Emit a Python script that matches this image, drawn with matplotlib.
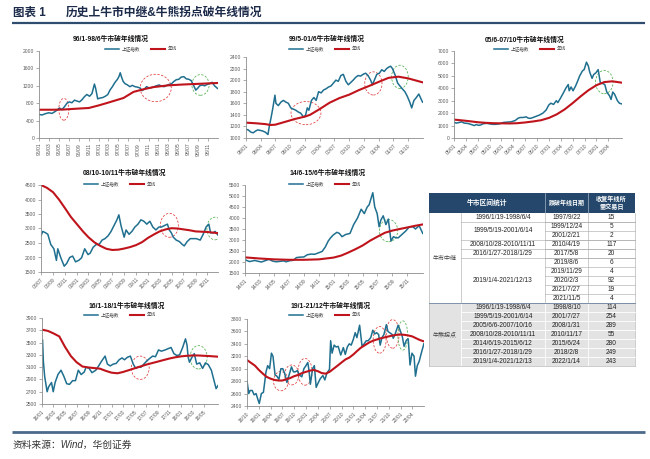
import matplotlib
matplotlib.use('Agg')
import matplotlib.pyplot as plt
import matplotlib.dates as mdates
from matplotlib.patches import Ellipse, Rectangle
from matplotlib.lines import Line2D
from datetime import datetime

plt.rcParams['font.family'] = ['Liberation Sans', 'Noto Sans CJK SC']

# ---------------- data ----------------
IDX_NAME = '上证指数'
MA_NAME = '年线'

# Chart 1: 96/1-98/6
c1_idx_d = ['96-01-01','96-01-20','96-02-10','96-03-01','96-03-20','96-04-05','96-04-20','96-05-05','96-05-20','96-06-05',
            '96-06-20','96-07-05','96-07-20','96-08-05','96-08-20','96-09-05','96-09-20','96-10-05','96-10-20','96-11-05',
            '96-11-20','96-12-05','96-12-12','96-12-25','97-01-10','97-01-25','97-02-10','97-02-25','97-03-10','97-03-25',
            '97-04-10','97-04-25','97-05-05','97-05-12','97-05-20','97-05-30','97-06-10','97-06-25','97-07-10','97-07-25',
            '97-08-10','97-08-25','97-09-10','97-09-22','97-10-05','97-10-20','97-11-05','97-11-20','97-12-05','97-12-20',
            '98-01-05','98-01-20','98-02-05','98-02-20','98-03-05','98-03-20','98-04-05','98-04-20','98-05-05','98-05-20',
            '98-06-05','98-06-20','98-07-05','98-07-20','98-08-05','98-08-17','98-08-30','98-09-10','98-09-25','98-10-10',
            '98-10-25','98-11-10','98-11-25','98-12-10','98-12-28']
c1_idx_v = [540,530,560,580,565,600,640,690,650,720,
            800,830,810,870,850,830,880,950,1000,960,
            1020,1240,1150,900,920,930,960,1000,1100,1180,
            1280,1350,1420,1500,1400,1300,1250,1220,1180,1210,
            1180,1170,1150,1090,1120,1180,1150,1160,1180,1200,
            1220,1190,1180,1210,1230,1240,1300,1340,1350,1400,
            1410,1360,1350,1320,1200,1100,1150,1200,1220,1200,
            1230,1250,1280,1200,1140]
c1_ma_d = ['96-01-01','96-04-01','96-06-01','96-09-01','96-11-01','97-01-01','97-03-01','97-06-01','97-08-01','97-10-01',
           '97-12-01','98-03-01','98-06-01','98-09-01','98-12-31']
c1_ma_v = [650,650,655,677,690,750,815,920,1060,1120,1170,1210,1230,1245,1265]

# Chart 2: 99/5-01/6
c2_idx_d = ['99-01-01','99-01-15','99-02-01','99-02-15','99-03-01','99-03-15','99-04-01','99-04-15','99-05-01','99-05-17',
            '99-05-25','99-06-05','99-06-15','99-06-29','99-07-05','99-07-20','99-08-05','99-08-20','99-09-05','99-09-20',
            '99-10-05','99-10-20','99-11-05','99-11-20','99-12-05','99-12-24','00-01-05','00-01-15','00-01-25','00-02-10',
            '00-02-25','00-03-10','00-03-25','00-04-10','00-04-25','00-05-10','00-05-25','00-06-10','00-06-25','00-07-10',
            '00-07-25','00-08-10','00-08-25','00-09-10','00-09-25','00-10-10','00-10-25','00-11-10','00-11-25','00-12-10',
            '00-12-25','01-01-10','01-01-25','01-02-10','01-02-21','01-03-05','01-03-20','01-04-05','01-04-20','01-05-05',
            '01-05-20','01-06-05','01-06-14','01-06-25','01-07-10','01-07-27','01-08-10','01-08-25','01-09-10','01-09-25',
            '01-10-10','01-10-22','01-11-05','01-11-20','01-12-05','01-12-28']
c2_idx_v = [1150,1140,1100,1090,1120,1140,1130,1120,1100,1060,
            1200,1350,1500,1740,1600,1560,1620,1650,1620,1600,
            1520,1500,1480,1450,1430,1360,1400,1520,1480,1650,
            1700,1650,1800,1780,1830,1850,1880,1900,1950,2000,
            1980,2080,2100,1980,1920,1960,2000,2050,2080,2070,
            2100,2120,2080,2000,1920,2000,2100,2120,2180,2150,
            2200,2230,2240,2200,2100,1950,1900,1850,1800,1720,
            1620,1520,1650,1700,1760,1620]
c2_ma_d = ['99-01-01','99-03-01','99-05-01','99-06-01','99-07-01','99-09-01','99-11-01','00-01-01','00-02-01','00-04-01',
           '00-06-01','00-08-01','00-10-01','00-12-01','01-02-01','01-04-01','01-06-01','01-08-01','01-10-01','01-12-31']
c2_ma_v = [1265,1255,1240,1225,1230,1280,1330,1370,1400,1500,1610,1690,1750,1830,1900,1970,2040,2060,2030,1960]

# Chart 3: 05/6-07/10
c3_idx_d = ['05-01-01','05-01-20','05-02-10','05-03-01','05-03-20','05-04-10','05-04-25','05-05-15','05-06-06','05-06-20',
            '05-07-10','05-07-25','05-08-15','05-09-10','05-10-10','05-10-28','05-11-20','05-12-20','06-01-15','06-02-15',
            '06-03-15','06-04-15','06-05-10','06-05-25','06-06-15','06-07-10','06-07-25','06-08-10','06-09-01','06-09-25',
            '06-10-20','06-11-15','06-12-10','06-12-30','07-01-15','07-02-05','07-02-26','07-03-10','07-03-30','07-04-20',
            '07-05-10','07-05-29','07-06-05','07-06-20','07-07-05','07-07-25','07-08-10','07-08-25','07-09-15','07-09-28',
            '07-10-16','07-10-30','07-11-10','07-11-28','07-12-10','07-12-28','08-01-14','08-01-31','08-02-15','08-03-05',
            '08-03-20','08-04-10','08-04-22','08-05-05','08-05-20','08-06-10','08-06-25','08-07-10']
c3_idx_v = [1260,1200,1250,1300,1200,1180,1150,1080,1000,1080,
            1020,1050,1150,1180,1120,1100,1100,1150,1250,1280,
            1300,1400,1600,1650,1650,1700,1600,1580,1650,1750,
            1850,2000,2250,2650,2800,2700,3000,2850,3200,3600,
            4000,4300,3800,4100,3800,4200,4600,5000,5400,5500,
            6100,5800,5300,4800,5100,5250,5500,4400,4400,4300,
            3700,3400,3100,3700,3500,3000,2800,2750]
c3_ma_d = ['05-01-01','05-03-01','05-05-01','05-07-01','05-09-01','05-11-01','06-01-01','06-03-01','06-05-01','06-07-01',
           '06-09-01','06-11-01','07-01-01','07-03-01','07-05-01','07-07-01','07-09-01','07-11-01','08-01-01','08-03-01',
           '08-05-01','08-07-15']
c3_ma_v = [1480,1420,1350,1270,1220,1190,1180,1170,1190,1250,1330,1430,1620,1900,2300,2800,3350,3850,4250,4500,4560,4450]

# Chart 4: 08/10-10/11
c4_idx_d = ['08-07-01','08-07-10','08-07-25','08-08-05','08-08-20','08-09-05','08-09-18','08-09-25','08-10-10','08-10-28',
            '08-11-10','08-11-25','08-12-10','08-12-25','09-01-10','09-01-25','09-02-10','09-02-27','09-03-10','09-03-25',
            '09-04-10','09-04-25','09-05-10','09-05-25','09-06-10','09-06-25','09-07-10','09-07-25','09-08-04','09-08-15',
            '09-08-31','09-09-10','09-09-25','09-10-10','09-10-25','09-11-10','09-11-25','09-12-10','09-12-25','10-01-10',
            '10-01-25','10-02-10','10-02-25','10-03-10','10-03-25','10-04-10','10-04-19','10-04-30','10-05-10','10-05-25',
            '10-06-10','10-06-25','10-07-05','10-07-20','10-08-05','10-08-20','10-09-05','10-09-25','10-10-10','10-10-25',
            '10-11-08','10-11-17','10-11-30','10-12-10','10-12-24']
c4_idx_v = [2750,2900,2850,2800,2450,2300,1900,2300,2000,1700,
            1800,2000,2050,1850,1900,1990,2300,2100,2150,2350,
            2450,2450,2600,2650,2750,2900,3100,3300,3470,3100,
            2700,2950,2800,2900,3050,3150,3300,3250,3150,3250,
            3050,2950,3050,3050,3100,3150,2950,2850,2700,2600,
            2550,2450,2400,2550,2650,2650,2650,2600,2800,3050,
            3150,2850,2850,2900,2780]
c4_ma_d = ['08-07-01','08-08-01','08-09-01','08-10-01','08-11-01','08-12-01','09-01-01','09-02-01','09-03-01','09-04-01',
           '09-05-01','09-06-01','09-07-01','09-08-01','09-09-01','09-10-01','09-11-01','09-12-01','10-01-01','10-02-01',
           '10-03-01','10-04-01','10-05-01','10-06-01','10-07-01','10-08-01','10-09-01','10-10-01','10-11-01','10-12-24']
c4_ma_v = [4500,4400,4250,4000,3700,3400,3150,2900,2700,2520,2400,2300,2260,2270,2310,2360,2430,2530,2680,2800,
           2900,2970,3010,3000,2970,2940,2900,2890,2880,2840]

# Chart 5: 14/6-15/6
c5_idx_d = ['14-01-01','14-01-20','14-02-10','14-02-25','14-03-10','14-03-25','14-04-10','14-04-25','14-05-10','14-05-25',
            '14-06-10','14-06-19','14-07-05','14-07-20','14-08-01','14-08-15','14-09-01','14-09-15','14-10-01','14-10-15',
            '14-11-01','14-11-15','14-11-28','14-12-10','14-12-20','14-12-31','15-01-15','15-01-25','15-02-05','15-02-20',
            '15-03-10','15-03-25','15-04-10','15-04-25','15-05-08','15-05-20','15-05-28','15-06-05','15-06-12','15-06-20',
            '15-06-30','15-07-08','15-07-15','15-07-25','15-08-05','15-08-15','15-08-26','15-09-05','15-09-15','15-09-25',
            '15-10-10','15-10-25','15-11-10','15-11-25','15-12-05','15-12-20','16-01-04']
c5_idx_v = [2100,2020,2070,2030,2000,2060,2120,2040,2010,2030,
            2050,2010,2060,2080,2200,2220,2230,2330,2360,2350,
            2420,2480,2680,2950,3100,3230,3350,3300,3150,3250,
            3300,3700,4000,4400,4200,4500,4600,4900,5150,4500,
            4200,3600,3900,4100,3700,3950,2950,3150,3100,3100,
            3250,3400,3600,3600,3500,3650,3300]
c5_ma_d = ['14-01-01','14-03-01','14-05-01','14-07-01','14-09-01','14-11-01','15-01-01','15-02-01','15-03-01','15-04-01',
           '15-05-01','15-06-01','15-07-01','15-08-01','15-09-01','15-10-01','15-11-01','15-12-01','16-01-05']
c5_ma_v = [2210,2160,2120,2100,2100,2120,2200,2290,2420,2580,2750,2970,3150,3330,3430,3500,3570,3640,3710]

# Chart 6: 16/1-18/1
c6_idx_d = ['16-01-04','16-01-08','16-01-15','16-01-28','16-02-05','16-02-20','16-02-29','16-03-10','16-03-25','16-04-10',
            '16-04-25','16-05-10','16-05-25','16-06-10','16-06-25','16-07-10','16-07-25','16-08-10','16-08-20','16-09-05',
            '16-09-20','16-10-10','16-10-25','16-11-10','16-11-28','16-12-10','16-12-25','17-01-10','17-01-25','17-02-10',
            '17-02-25','17-03-10','17-03-25','17-04-10','17-04-25','17-05-08','17-05-20','17-06-05','17-06-20','17-07-05',
            '17-07-20','17-08-05','17-08-20','17-09-05','17-09-20','17-10-10','17-10-25','17-11-10','17-11-25','17-12-10',
            '17-12-25','18-01-10','18-01-25','18-02-02','18-02-08','18-02-15','18-02-28','18-03-12','18-03-25','18-04-10',
            '18-04-25','18-05-10','18-05-25','18-06-10','18-06-25','18-07-05','18-07-15']
c6_idx_v = [3540,3200,2950,2700,2780,2850,2700,2850,2980,3050,
            2950,2830,2820,2880,2880,3050,2980,3020,3100,3080,
            3010,3050,3120,3200,3280,3150,3120,3150,3160,3220,
            3250,3220,3260,3280,3150,3080,3100,3100,3150,3200,
            3240,3280,3270,3380,3360,3380,3400,3420,3320,3290,
            3300,3420,3560,3460,3260,3180,3260,3320,3150,3170,
            3080,3170,3140,3050,2870,2750,2800]
c6_ma_d = ['16-01-01','16-02-01','16-03-01','16-04-01','16-05-01','16-06-01','16-07-01','16-08-01','16-09-01','16-10-01',
           '16-11-01','16-12-01','17-01-01','17-02-01','17-03-01','17-04-01','17-05-01','17-06-01','17-07-01','17-08-01',
           '17-09-01','17-10-01','17-11-01','17-12-01','18-01-01','18-02-01','18-03-01','18-04-01','18-05-01','18-06-01',
           '18-07-15']
c6_ma_v = [3710,3690,3650,3600,3430,3280,3180,3110,3095,3085,3075,3040,3010,3000,3020,3050,3080,3110,3140,3165,
           3190,3215,3240,3260,3275,3285,3290,3290,3285,3280,3270]

# Chart 7: 19/1-21/12
c7_idx_d = ['18-10-01','18-10-15','18-10-25','18-11-10','18-11-25','18-12-10','18-12-25','19-01-04','19-01-20','19-02-05',
            '19-02-25','19-03-10','19-03-25','19-04-08','19-04-20','19-05-06','19-05-20','19-06-05','19-06-20','19-07-05',
            '19-07-20','19-08-06','19-08-20','19-09-10','19-09-25','19-10-10','19-10-25','19-11-10','19-11-29','19-12-15',
            '19-12-31','20-01-14','20-01-23','20-02-03','20-02-20','20-03-05','20-03-19','20-04-05','20-04-20','20-05-10',
            '20-05-25','20-06-10','20-06-30','20-07-09','20-07-20','20-08-05','20-08-20','20-09-05','20-09-25','20-10-15',
            '20-10-30','20-11-15','20-11-30','20-12-15','20-12-31','21-01-15','21-01-28','21-02-18','21-03-09','21-03-25',
            '21-04-10','21-04-25','21-05-15','21-05-31','21-06-15','21-06-30','21-07-15','21-07-27','21-08-10','21-08-25',
            '21-09-13','21-09-25','21-10-15','21-10-28','21-11-05','21-11-20','21-12-13','21-12-28','22-01-14','22-01-28',
            '22-02-15','22-03-01','22-03-15','22-03-30','22-04-15','22-04-26','22-05-10','22-05-25','22-06-10','22-06-30']
c7_idx_v = [2800,2600,2650,2650,2580,2600,2500,2440,2600,2620,
            2950,3050,3000,3250,3200,2900,2880,2830,3000,3000,
            2920,2780,2880,3030,2950,2950,2970,2900,2870,3000,
            3050,3100,2980,2750,3000,3050,2700,2780,2840,2890,
            2820,2930,2990,3450,3250,3380,3350,3360,3220,3340,
            3230,3350,3400,3380,3470,3580,3500,3700,3360,3400,
            3450,3450,3500,3620,3560,3580,3550,3380,3500,3550,
            3710,3600,3570,3550,3490,3560,3700,3620,3520,3360,
            3460,3480,3060,3250,3200,2880,3050,3120,3250,3400]
c7_ma_d = ['18-10-01','18-12-01','19-01-01','19-02-01','19-03-01','19-04-01','19-05-01','19-06-01','19-07-01','19-08-01',
           '19-09-01','19-10-01','19-11-01','19-12-01','20-01-01','20-02-01','20-03-01','20-04-01','20-05-01','20-06-01',
           '20-07-01','20-08-01','20-09-01','20-10-01','20-11-01','20-12-01','21-01-01','21-02-01','21-03-01','21-04-01',
           '21-05-01','21-06-01','21-07-01','21-08-01','21-09-01','21-10-01','21-11-01','21-12-01','22-01-01','22-02-01',
           '22-03-01','22-04-01','22-05-01','22-06-01','22-07-01']
c7_ma_v = [3140,3050,2980,2920,2870,2840,2820,2810,2810,2830,2850,2880,2900,2930,2950,2970,2980,2960,2930,2920,
           2950,3000,3050,3100,3150,3180,3230,3290,3340,3380,3420,3450,3470,3490,3505,3520,3535,3545,3550,3545,
           3535,3520,3490,3460,3440]

# x tick labels
c1_xt = ['96/01','96/03','96/05','96/07','96/09','96/11','97/01','97/03','97/05','97/07','97/09','97/11',
         '98/01','98/03','98/05','98/07','98/09','98/11']
c2_xt = ['99/01','99/04','99/07','99/10','00/01','00/04','00/07','00/10','01/01','01/04','01/07','01/10']
c3_xt = ['05/01','05/04','05/07','05/10','06/01','06/04','06/07','06/10','07/01','07/04','07/07','07/10','08/01','08/04']
c4_xt = ['08/07','08/09','08/11','09/01','09/03','09/05','09/07','09/09','09/11','10/01','10/03','10/05','10/07','10/09','10/11']
c5_xt = ['14/01','14/03','14/05','14/07','14/09','14/11','15/01','15/03','15/05','15/07','15/09','15/11']
c6_xt = ['16/01','16/03','16/05','16/07','16/09','16/11','17/01','17/03','17/05','17/07','17/09','17/11','18/01','18/03','18/05']
c7_xt = ['18/10','19/01','19/04','19/07','19/10','20/01','20/04','20/07','20/10','21/01','21/04','21/07','21/10','22/01','22/04']

# circled break points: (centre date, centre value, width in days, height, colour)
RED = '#e03c3c'
GRN = '#4fb04f'
c1_circ = [('96-06-01', 660, 62, 500, RED), ('97-12-15', 1150, 190, 630, RED), ('98-09-15', 1220, 105, 475, GRN)]
c2_circ = [('00-01-07', 1430, 185, 400, RED), ('01-02-27', 1943, 107, 400, RED), ('01-08-10', 2057, 103, 400, GRN)]
c3_circ = [('08-03-01', 4500, 134, 1870, GRN)]
c4_circ = [('10-04-20', 3110, 92, 825, RED), ('10-12-10', 3000, 84, 780, GRN)]
c5_circ = [('15-08-16', 3425, 76, 1010, GRN)]
c6_circ = [('17-06-01', 3090, 94, 380, RED), ('18-04-04', 3260, 90, 380, GRN)]
c7_circ = [('19-06-20', 2800, 114, 310, RED), ('19-09-12', 2900, 110, 320, RED), ('19-12-24', 2950, 110, 430, RED),
           ('21-07-23', 3465, 100, 430, RED), ('21-11-01', 3560, 100, 460, RED), ('22-01-18', 3535, 76, 470, GRN)]

# table
sec1_ranges = ['1996/1/19-1998/6/4', '1999/5/19-2001/6/14', '2008/10/28-2010/11/11', '2016/1/27-2018/1/29', '2019/1/4-2021/12/13']
sec1_spans = [1, 2, 1, 1, 5]
sec1_dates = ['1997/9/22', '1999/12/24', '2001/2/21', '2010/4/19', '2017/5/8', '2019/8/6', '2019/11/29', '2020/2/3', '2021/7/27', '2021/11/5']
sec1_days = [15, 5, 2, 117, 20, 6, 4, 92, 19, 4]
sec2_ranges = ['1996/1/19-1998/6/4', '1999/5/19-2001/6/14', '2005/6/6-2007/10/16', '2008/10/28-2010/11/11',
               '2014/6/19-2015/6/12', '2016/1/27-2018/1/29', '2019/1/4-2021/12/13']
sec2_dates = ['1998/8/10', '2001/7/27', '2008/1/31', '2010/11/17', '2015/6/24', '2018/2/8', '2022/1/14']
sec2_days = [114, 254, 289, 55, 280, 249, 243]

# ---------------- drawing ----------------
W, H = 650, 459
fig = plt.figure(figsize=(W / 100, H / 100), dpi=100)
fig.patch.set_facecolor('white')

IDX_C = '#1f6f8f'
MA_C = '#c0141c'
TICK_C = '#595959'


def d(s):
    return datetime.strptime(s, '%y-%m-%d')


def add_ax(l, t, r, b):
    return fig.add_axes([l / W, 1 - b / H, (r - l) / W, (b - t) / H])


def chart(box, title, tpos, lpos, idx_d, idx_v, ma_d, ma_v, ylim, ystep, xt, xlim, rot, circs):
    ax = add_ax(*box)
    ax.plot([d(s) for s in idx_d], idx_v, color=IDX_C, lw=1.1, solid_joinstyle='round')
    ax.plot([d(s) for s in ma_d], ma_v, color=MA_C, lw=1.5)
    for (cd, cv, wd, hv, col) in circs:
        ax.add_patch(Ellipse((mdates.date2num(d(cd)), cv), wd, hv, fill=False, ec=col, lw=0.55, ls=(0, (3, 2))))
    ax.set_xlim(d(xlim[0]), d(xlim[1]))
    ax.set_ylim(*ylim)
    ax.set_yticks(range(ylim[0], ylim[1] + 1, ystep))
    ax.set_xticks([datetime.strptime(s, '%y/%m') for s in xt])
    if rot == 90:
        ax.set_xticklabels(xt, rotation=90, ha='center', va='top')
    else:
        ax.set_xticklabels(xt, rotation=45, ha='right', va='top', rotation_mode='anchor')
    for sp in ['top', 'right']:
        ax.spines[sp].set_visible(False)
    for sp in ['left', 'bottom']:
        ax.spines[sp].set_color('#8c8c8c')
        ax.spines[sp].set_linewidth(0.6)
    ax.tick_params(axis='both', labelsize=3.6, labelcolor=TICK_C, color='#8c8c8c', length=2, width=0.5, pad=1.5)
    ax.set_facecolor('none')
    fig.text(tpos[0] / W, 1 - tpos[1] / H, title, ha='center', va='center', fontsize=4.9, fontweight='bold', color='#111111')
    handles = [Line2D([], [], color=IDX_C, lw=1.1), Line2D([], [], color=MA_C, lw=1.5)]
    fig.legend(handles, [IDX_NAME, MA_NAME], loc='center', bbox_to_anchor=(lpos[0] / W, 1 - lpos[1] / H),
               ncol=2, frameon=False, fontsize=3.3, handlelength=3.2, handletextpad=0.6, columnspacing=2.2,
               labelcolor='#444444', borderpad=0)
    return ax


chart((39, 51, 218, 138), '96/1-98/6牛市破年线情况', (111, 39), (141, 49), c1_idx_d, c1_idx_v, c1_ma_d, c1_ma_v,
      (0, 2000), 400, c1_xt, ('96-01-01', '98-12-31'), 90, c1_circ)
chart((246, 57, 423, 138), '99/5-01/6牛市破年线情况', (327, 39), (325, 49), c2_idx_d, c2_idx_v, c2_ma_d, c2_ma_v,
      (1000, 2400), 200, c2_xt, ('99-01-01', '01-12-31'), 45, c2_circ)
chart((454, 51, 622, 138), '05/6-07/10牛市破年线情况', (525, 40), (530, 49), c3_idx_d, c3_idx_v, c3_ma_d, c3_ma_v,
      (0, 7000), 1000, c3_xt, ('05-01-01', '08-07-15'), 45, c3_circ)
chart((41, 185, 218, 272), '08/10-10/11牛市破年线情况', (124, 173), (120, 184), c4_idx_d, c4_idx_v, c4_ma_d, c4_ma_v,
      (1500, 4500), 500, c4_xt, ('08-07-01', '10-12-25'), 45, c4_circ)
chart((245, 185, 423, 273), '14/6-15/6牛市破年线情况', (328, 173), (325, 184), c5_idx_d, c5_idx_v, c5_ma_d, c5_ma_v,
      (1500, 5500), 500, c5_xt, ('14-01-01', '16-01-05'), 45, c5_circ)
chart((42, 318, 218, 404), '16/1-18/1牛市破年线情况', (127, 306), (120, 315), c6_idx_d, c6_idx_v, c6_ma_d, c6_ma_v,
      (2500, 3900), 200, c6_xt, ('16-01-01', '18-07-15'), 45, c6_circ)
chart((247, 319, 424, 406), '19/1-21/12牛市破年线情况', (331, 306), (325, 315), c7_idx_d, c7_idx_v, c7_ma_d, c7_ma_v,
      (2400, 3800), 200, c7_xt, ('18-10-01', '22-07-01'), 45, c7_circ)

# overlay in pixel coordinates for header, table and footer
ov = fig.add_axes([0, 0, 1, 1])
ov.set_xlim(0, W)
ov.set_ylim(H, 0)
ov.axis('off')
ov.set_facecolor('none')

ov.text(13, 13, '图表 1', fontsize=8.3, fontweight='bold', color='#1c2b4a', va='center', ha='left')
ov.text(66, 13, '历史上牛市中继&牛熊拐点破年线情况', fontsize=8.5, fontweight='bold', color='#1c2b4a', va='center', ha='left')
ov.plot([12, 645], [23, 23], color='#2e4d6e', lw=1.6, solid_capstyle='butt')
ov.plot([12, 645], [432, 432], color='#4c6a8a', lw=2.0, solid_capstyle='butt')
ov.text(13, 445, '资料来源：Wind，华创证券', fontsize=7, style='italic', color='#333333', va='center', ha='left')

# table
cols = [429, 461, 545, 588, 635]
top, hb, rh = 193, 213, 9.0
HDR = '#24476b'
GRAY = '#e3e3e3'
LINE = '#a6a6a6'
TFS = 4.7
ov.add_patch(Rectangle((cols[0], top), cols[-1] - cols[0], hb - top, fc=HDR, ec='none'))
for x in (cols[2], cols[3]):
    ov.plot([x, x], [top, hb], color='#c8d2dd', lw=0.4)
ov.text((cols[0] + cols[2]) / 2, (top + hb) / 2, '牛市区间统计', color='white', fontsize=4.9, fontweight='bold', ha='center', va='center')
ov.text((cols[2] + cols[3]) / 2, (top + hb) / 2, '跌破年线日期', color='white', fontsize=4.3, fontweight='bold', ha='center', va='center')
ov.text((cols[3] + cols[4]) / 2, (top + hb) / 2, '收复年线所\n需交易日', color='white', fontsize=4.4, fontweight='bold',
        ha='center', va='center', linespacing=1.25)

n1 = len(sec1_dates)
n2 = len(sec2_dates)
s2top = hb + n1 * rh
bot = s2top + n2 * rh
# section 2 grey background
ov.add_patch(Rectangle((cols[0], s2top), cols[-1] - cols[0], n2 * rh, fc=GRAY, ec='none'))

# section 1 lines
r = 0
for rng, sp in zip(sec1_ranges, sec1_spans):
    y0 = hb + r * rh
    ov.text((cols[1] + cols[2]) / 2, y0 + sp * rh / 2, rng, fontsize=TFS, ha='center', va='center', color='#222222')
    ov.plot([cols[1], cols[4]], [y0 + sp * rh, y0 + sp * rh], color=LINE, lw=0.4)
    r += sp
for i in range(n1):
    yc = hb + (i + 0.5) * rh
    ov.text((cols[2] + cols[3]) / 2, yc, sec1_dates[i], fontsize=TFS, ha='center', va='center', color='#222222')
    ov.text((cols[3] + cols[4]) / 2, yc, str(sec1_days[i]), fontsize=TFS, ha='center', va='center', color='#222222')
    if i > 0:
        ov.plot([cols[2], cols[4]], [hb + i * rh, hb + i * rh], color=LINE, lw=0.4)
for x in cols[1:4]:
    ov.plot([x, x], [hb, s2top], color=LINE, lw=0.4)
ov.plot([cols[0], cols[0]], [hb, bot], color=LINE, lw=0.4)
ov.plot([cols[4], cols[4]], [hb, bot], color=LINE, lw=0.4)
ov.text((cols[0] + cols[1]) / 2, (hb + s2top) / 2, '牛市中继', fontsize=4.3, ha='center', va='center', color='#444444')

# section 2
for i in range(n2):
    yc = s2top + (i + 0.5) * rh
    ov.text((cols[1] + cols[2]) / 2, yc, sec2_ranges[i], fontsize=TFS, ha='center', va='center', color='#222222')
    ov.text((cols[2] + cols[3]) / 2, yc, sec2_dates[i], fontsize=TFS, ha='center', va='center', color='#222222')
    ov.text((cols[3] + cols[4]) / 2, yc, str(sec2_days[i]), fontsize=TFS, ha='center', va='center', color='#222222')
    if i > 0:
        ov.plot([cols[1], cols[4]], [s2top + i * rh, s2top + i * rh], color='white', lw=0.6)
for x in cols[1:4]:
    ov.plot([x, x], [s2top, bot], color='white', lw=0.6)
ov.plot([cols[0], cols[4]], [s2top, s2top], color='#6f86a0', lw=0.6)
ov.plot([cols[0], cols[4]], [bot, bot], color=LINE, lw=0.4)
ov.text((cols[0] + cols[1]) / 2, (s2top + bot) / 2, '牛熊拐点', fontsize=4.3, ha='center', va='center', color='#444444')

fig.savefig('out.png', dpi=100)
